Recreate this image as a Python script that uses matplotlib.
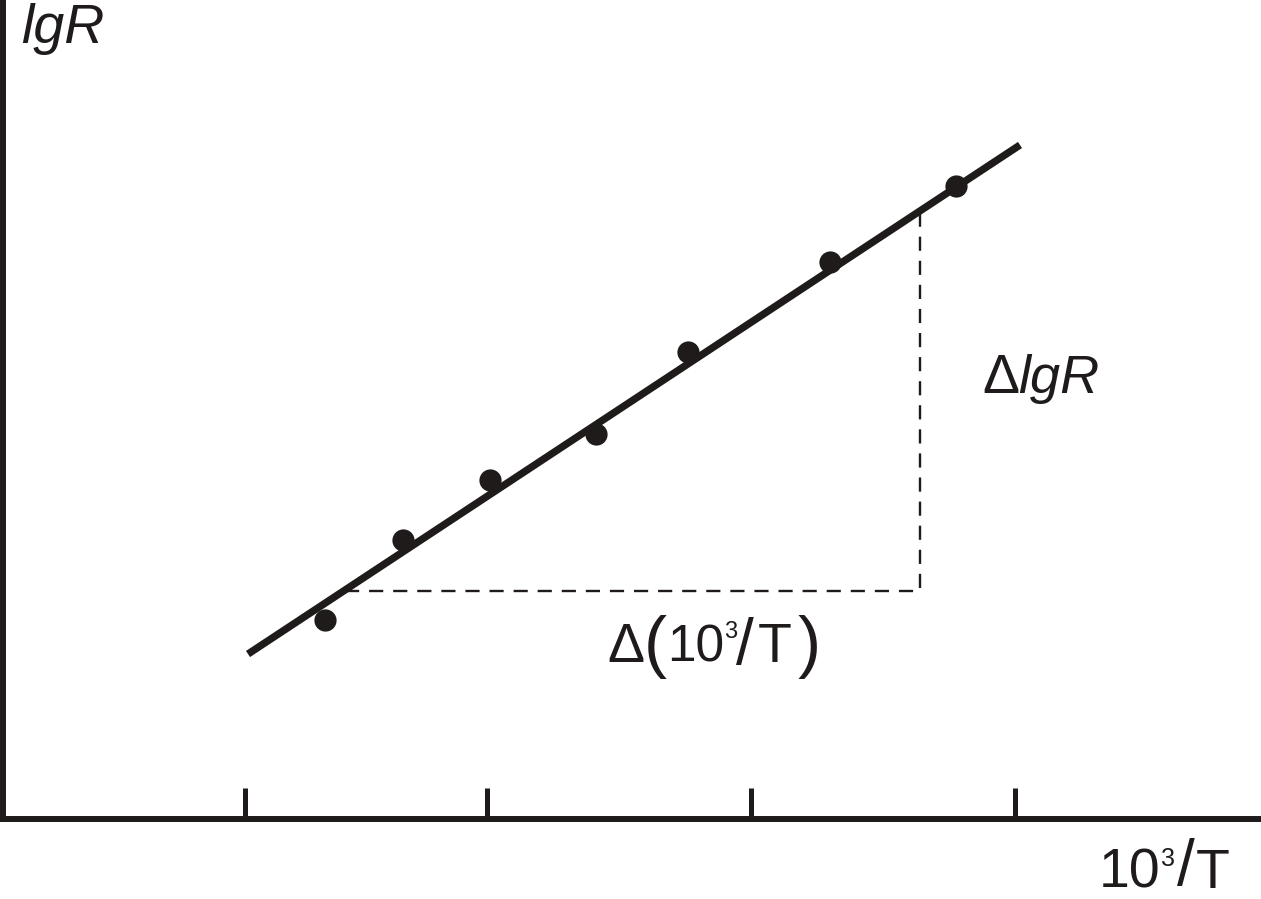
import numpy as np
import matplotlib.pyplot as plt

# 数据 (x = 10^3/T, y = lgR, arbitrary units)
pts_x = [3.25, 4.03, 4.90, 5.96, 6.88, 8.30, 9.56]
pts_y = [2.79, 3.59, 4.19, 4.65, 5.47, 6.37, 7.13]

# fitted straight line end points
line_x = [2.48, 10.20]
line_y = [2.45, 7.54]

# slope triangle: left end, corner, top end
tri_x = [3.45, 9.20, 9.20]
tri_y = [3.08, 3.08, 6.88]

tick_x = [2.45, 4.87, 7.51, 10.15]

ink = '#1f1b1b'

plt.rcParams['font.family'] = ['Liberation Sans', 'DejaVu Sans']

fig = plt.figure(figsize=(12.61, 8.99), dpi=100)
ax = fig.add_axes([3 / 1261, 80 / 899, 1 - 3 / 1261, 819 / 899])
ax.set_xlim(0.03, 12.61)
ax.set_ylim(0.80, 8.99)

# 坐标轴
for s in ['top', 'right']:
    ax.spines[s].set_visible(False)
for s in ['left', 'bottom']:
    ax.spines[s].set_linewidth(4.3)
    ax.spines[s].set_color(ink)
ax.set_xticks(tick_x)
ax.set_yticks([])
ax.tick_params(axis='x', direction='in', length=22.3, width=3.6, color=ink,
               labelbottom=False)

# 三角形 (虚线)
ax.plot(tri_x, tri_y, color=ink, lw=1.7, dashes=(6, 4.2))

# 拟合直线和数据点
ax.plot(line_x, line_y, color=ink, lw=5.3, solid_capstyle='butt')
ax.plot(pts_x, pts_y, 'o', color=ink, markersize=16, markeredgewidth=0)


def txt(x, y, s, size=40, **kw):
    ax.text(x, y, s, fontsize=size, color=ink, ha='left', va='baseline',
            clip_on=False, **kw)


# 文字
txt(0.21, 8.56, 'lgR', style='italic')

# 10^3/T  (x 轴标题)
txt(10.99, 0.11, '10')
txt(11.61, 0.33, '3', size=18)
txt(11.77, 0.14, '/', size=46)
txt(11.96, 0.11, 'T')

# Δ(10^3/T)
txt(6.07, 2.37, 'Δ')
txt(6.44, 2.34, '(', size=50)
txt(6.67, 2.37, '10', size=37)
txt(7.24, 2.61, '3', size=17)
txt(7.36, 2.35, '/', size=46)
txt(7.58, 2.37, 'T')
txt(7.98, 2.34, ')', size=50)

# ΔlgR
txt(9.82, 5.06, 'Δ')
txt(10.18, 5.06, 'lgR', size=39, style='italic')

plt.savefig('out.png', dpi=100)
